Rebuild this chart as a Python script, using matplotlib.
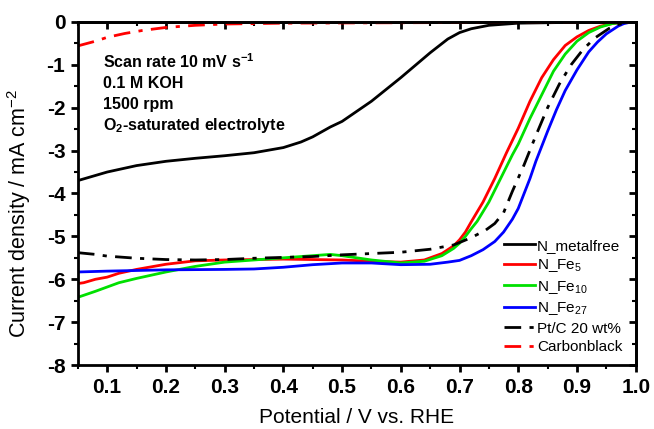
import matplotlib
matplotlib.use("Agg")
import matplotlib.pyplot as plt
from matplotlib.ticker import MultipleLocator

plt.rcParams['font.family'] = ['Liberation Sans', 'DejaVu Sans']
plt.rcParams['axes.unicode_minus'] = False
plt.rcParams['mathtext.fontset'] = 'custom'
plt.rcParams['mathtext.rm'] = 'Liberation Sans'
plt.rcParams['mathtext.bf'] = 'Liberation Sans:bold'

# --- data (V vs RHE, mA cm^-2) ---
v_metalfree = [0.05, 0.10, 0.15, 0.20, 0.25, 0.30, 0.35, 0.40, 0.43, 0.45, 0.48,
               0.50, 0.55, 0.60, 0.65, 0.68, 0.70, 0.72, 0.75, 0.80, 0.90, 1.00]
j_metalfree = [-3.70, -3.50, -3.35, -3.25, -3.18, -3.12, -3.05, -2.93, -2.80, -2.68, -2.45,
               -2.32, -1.85, -1.30, -0.72, -0.40, -0.25, -0.16, -0.08, -0.03, -0.01, 0.0]

v_fe5 = [0.05, 0.06, 0.08, 0.10, 0.12, 0.15, 0.20, 0.25, 0.30, 0.40, 0.50, 0.55, 0.60,
         0.64, 0.67, 0.69, 0.70, 0.71, 0.72, 0.74, 0.76, 0.78, 0.80, 0.82, 0.84, 0.86,
         0.88, 0.90, 0.92, 0.94, 0.96, 0.98, 1.00]
j_fe5 = [-6.10, -6.08, -6.00, -5.95, -5.86, -5.77, -5.65, -5.57, -5.55, -5.53, -5.55, -5.58, -5.60,
         -5.55, -5.40, -5.22, -5.08, -4.90, -4.66, -4.20, -3.65, -3.05, -2.48, -1.85, -1.30, -0.88,
         -0.55, -0.35, -0.20, -0.10, -0.04, -0.01, 0.0]

v_fe10 = [0.05, 0.08, 0.10, 0.12, 0.15, 0.20, 0.25, 0.30, 0.35, 0.40, 0.45, 0.48, 0.50,
          0.55, 0.60, 0.64, 0.67, 0.69, 0.70, 0.71, 0.72, 0.73, 0.75, 0.77, 0.79, 0.80,
          0.82, 0.84, 0.86, 0.88, 0.90, 0.92, 0.94, 0.96, 0.98, 1.00]
j_fe10 = [-6.42, -6.28, -6.18, -6.08, -5.98, -5.83, -5.70, -5.60, -5.55, -5.50, -5.45, -5.42, -5.45,
          -5.55, -5.62, -5.58, -5.45, -5.28, -5.16, -5.00, -4.82, -4.65, -4.20, -3.65, -3.10, -2.85,
          -2.25, -1.70, -1.15, -0.75, -0.45, -0.25, -0.12, -0.04, -0.01, 0.0]

v_fe27 = [0.05, 0.10, 0.20, 0.30, 0.35, 0.40, 0.45, 0.50, 0.55, 0.60, 0.65, 0.68, 0.70,
          0.72, 0.74, 0.76, 0.775, 0.79, 0.80, 0.82, 0.83, 0.85, 0.865, 0.88, 0.90, 0.92,
          0.935, 0.95, 0.97, 0.98, 0.99, 1.00]
j_fe27 = [-5.83, -5.81, -5.78, -5.77, -5.76, -5.72, -5.66, -5.62, -5.62, -5.66, -5.65, -5.60, -5.56,
          -5.45, -5.31, -5.12, -4.90, -4.60, -4.35, -3.65, -3.25, -2.55, -2.05, -1.60, -1.12, -0.70,
          -0.47, -0.28, -0.10, -0.04, -0.01, 0.0]

v_ptc = [0.05, 0.08, 0.10, 0.15, 0.20, 0.25, 0.30, 0.35, 0.40, 0.45, 0.50, 0.55, 0.60,
         0.65, 0.69, 0.72, 0.745, 0.76, 0.775, 0.79, 0.81, 0.83, 0.85, 0.87, 0.89, 0.91,
         0.93, 0.955, 0.97, 0.99, 1.00]
j_ptc = [-5.38, -5.42, -5.46, -5.51, -5.54, -5.55, -5.54, -5.51, -5.49, -5.47, -5.43, -5.40, -5.37,
         -5.30, -5.20, -5.03, -4.85, -4.70, -4.45, -3.95, -3.33, -2.65, -2.00, -1.45, -1.00, -0.65,
         -0.38, -0.15, -0.06, -0.01, 0.0]

v_cb = [0.05, 0.08, 0.10, 0.13, 0.16, 0.20, 0.25, 0.30, 0.40, 0.60, 0.80, 1.00]
j_cb = [-0.56, -0.45, -0.36, -0.27, -0.20, -0.13, -0.08, -0.05, -0.03, -0.02, -0.01, 0.0]

xticks = [0.1, 0.2, 0.3, 0.4, 0.5, 0.6, 0.7, 0.8, 0.9, 1.0]
xticklabels = ['0.1', '0.2', '0.3', '0.4', '0.5', '0.6', '0.7', '0.8', '0.9', '1.0']

fig = plt.figure(figsize=(6.54, 4.29), dpi=100)
ax = fig.add_axes([0.119, 0.149, 0.853, 0.800])

lw = 2.0
ax.plot(v_metalfree, j_metalfree, color='black', lw=lw, label='N_metalfree')
ax.plot(v_fe5, j_fe5, color='#ff0000', lw=lw, label='N_Fe$_{5}$')
ax.plot(v_fe10, j_fe10, color='#00e000', lw=lw, label='N_Fe$_{10}$')
ax.plot(v_fe27, j_fe27, color='#0000ff', lw=lw, label='N_Fe$_{27}$')
ax.plot(v_ptc, j_ptc, color='black', lw=lw, dashes=(6, 3, 1.5, 3), label='Pt/C 20 wt%')
ax.plot(v_cb, j_cb, color='#ff0000', lw=lw, dashes=(6, 3, 1.5, 3), label='Carbonblack')

ax.set_xlim(0.05, 1.0)
ax.set_ylim(-8, 0)
ax.xaxis.set_minor_locator(MultipleLocator(0.05))
ax.yaxis.set_major_locator(MultipleLocator(1))
ax.yaxis.set_minor_locator(MultipleLocator(0.5))
ax.set_xticks(xticks)
ax.set_xticklabels(xticklabels)

for s in ax.spines.values():
    s.set_linewidth(2.0)
ax.tick_params(which='major', direction='out', length=5, width=2, labelsize=15, pad=4)
ax.tick_params(which='minor', direction='out', length=3, width=1.5)
for lab in ax.get_xticklabels() + ax.get_yticklabels():
    lab.set_fontweight('bold')

# inward ticks on top and right
top = ax.secondary_xaxis('top')
top.xaxis.set_major_locator(MultipleLocator(0.1))
top.xaxis.set_minor_locator(MultipleLocator(0.05))
top.tick_params(which='major', direction='in', length=5, width=2, labeltop=False)
top.tick_params(which='minor', direction='in', length=3, width=1.5)
top.spines['top'].set_linewidth(2.0)
right = ax.secondary_yaxis('right')
right.yaxis.set_major_locator(MultipleLocator(1))
right.yaxis.set_minor_locator(MultipleLocator(0.5))
right.tick_params(which='major', direction='in', length=5, width=2, labelright=False)
right.tick_params(which='minor', direction='in', length=3, width=1.5)
right.spines['right'].set_linewidth(2.0)

ax.set_xlabel('Potential / V vs. RHE', fontsize=15, labelpad=8)
ax.set_ylabel('Current density / mA cm$^{-2}$', fontsize=15.5)
ax.yaxis.set_label_coords(-0.081, 0.443)

notes = ['Scan rate 10 mV s$^{\\mathbf{-1}}$', '0.1 M KOH', '1500 rpm',
         'O$_{\\mathbf{2}}$-saturated electrolyte']
for i, t in enumerate(notes):
    ax.text(0.046, 0.883 - i * 0.062, t, transform=ax.transAxes,
            fontsize=11.5, fontweight='bold', va='center')

leg = ax.legend(loc='lower right', bbox_to_anchor=(0.995, 0.0), frameon=False,
                fontsize=11, handlelength=2.0, handletextpad=0.15,
                labelspacing=0.3, borderaxespad=0.3)

fig.savefig('out.png', dpi=100)
plt.close(fig)
